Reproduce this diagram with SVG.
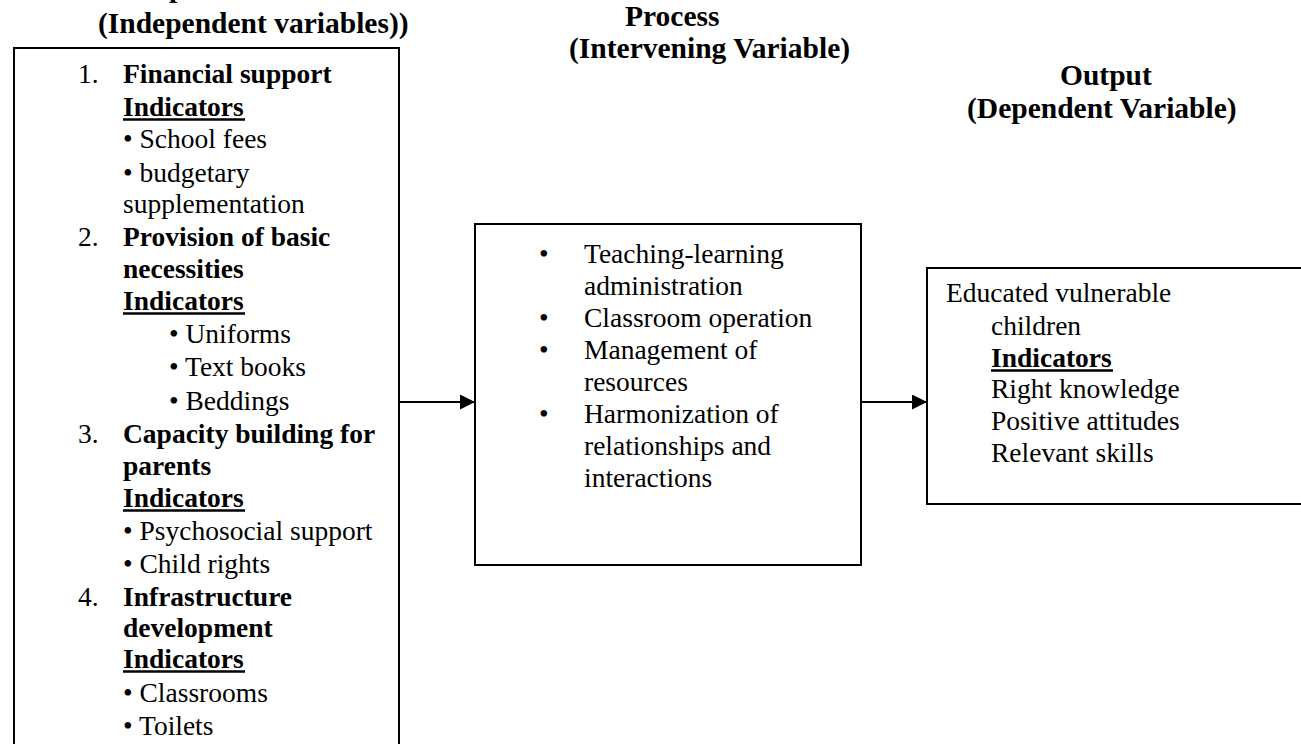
<svg xmlns="http://www.w3.org/2000/svg" width="1301" height="744" viewBox="0 0 1301 744">
  <style>
    text { font-family: "Liberation Serif", "Times New Roman", serif; fill: #000; }
    .body { font-size: 27.5px; }
    .b { font-weight: bold; }
    .title { font-size: 29.5px; font-weight: bold; }
    .box { fill: #fff; stroke: #000; stroke-width: 2; }
    .ul { stroke: #000; stroke-width: 2.6; }
    .conn { stroke: #000; stroke-width: 2; fill: none; }
  </style>
  <defs>
    <marker id="arrow" markerWidth="16" markerHeight="16" refX="15" refY="7.5" orient="auto" markerUnits="userSpaceOnUse">
      <path d="M0,0 L15,7.5 L0,15 Z" fill="#000"/>
    </marker>
  </defs>

  <rect width="1301" height="744" fill="#fff"/>

  <!-- column headings -->
  <g id="headings">
    <text class="title" x="141" y="-3">Input</text>
    <text class="title" x="98" y="33">(Independent variables))</text>
    <text class="title" x="625" y="26">Process</text>
    <text class="title" x="569" y="58">(Intervening Variable)</text>
    <text class="title" x="1060" y="85">Output</text>
    <text class="title" x="967" y="118">(Dependent Variable)</text>
  </g>

  <!-- input: independent variables -->
  <g id="input">
    <rect class="box" x="14" y="48" width="385" height="720"/>
    <g class="body">
      <text x="78" y="83">1.</text>
      <text class="b" x="123" y="83">Financial support</text>
      <text class="b" x="123" y="116">Indicators</text>
      <line class="ul" x1="123" y1="119.5" x2="245" y2="119.5"/>
      <text x="123" y="148">• School fees</text>
      <text x="123" y="182">• budgetary</text>
      <text x="123" y="213">supplementation</text>

      <text x="78" y="246">2.</text>
      <text class="b" x="123" y="246">Provision of basic</text>
      <text class="b" x="123" y="278">necessities</text>
      <text class="b" x="123" y="310">Indicators</text>
      <line class="ul" x1="123" y1="313.5" x2="245" y2="313.5"/>
      <text x="169" y="343">• Uniforms</text>
      <text x="169" y="376">• Text books</text>
      <text x="169" y="410">• Beddings</text>

      <text x="78" y="443">3.</text>
      <text class="b" x="123" y="443">Capacity building for</text>
      <text class="b" x="123" y="475">parents</text>
      <text class="b" x="123" y="507">Indicators</text>
      <line class="ul" x1="123" y1="510.5" x2="245" y2="510.5"/>
      <text x="123" y="540">• Psychosocial support</text>
      <text x="123" y="573">• Child rights</text>

      <text x="78" y="606">4.</text>
      <text class="b" x="123" y="606">Infrastructure</text>
      <text class="b" x="123" y="637">development</text>
      <text class="b" x="123" y="668">Indicators</text>
      <line class="ul" x1="123" y1="671.5" x2="245" y2="671.5"/>
      <text x="123" y="702">• Classrooms</text>
      <text x="123" y="735">• Toilets</text>
    </g>
  </g>

  <!-- process: intervening variable -->
  <g id="process">
    <rect class="box" x="475" y="224" width="386" height="341"/>
    <g class="body">
      <text x="539" y="263">•</text>
      <text x="584" y="263">Teaching-learning</text>
      <text x="584" y="295">administration</text>
      <text x="539" y="327">•</text>
      <text x="584" y="327">Classroom operation</text>
      <text x="539" y="359">•</text>
      <text x="584" y="359">Management of</text>
      <text x="584" y="391">resources</text>
      <text x="539" y="423">•</text>
      <text x="584" y="423">Harmonization of</text>
      <text x="584" y="455">relationships and</text>
      <text x="584" y="487">interactions</text>
    </g>
  </g>

  <!-- output: dependent variable -->
  <g id="output">
    <rect class="box" x="927" y="268" width="400" height="236"/>
    <g class="body">
      <text x="946" y="302">Educated vulnerable</text>
      <text x="991" y="335">children</text>
      <text class="b" x="991" y="367">Indicators</text>
      <line class="ul" x1="991" y1="370.5" x2="1113" y2="370.5"/>
      <text x="991" y="398">Right knowledge</text>
      <text x="991" y="430">Positive attitudes</text>
      <text x="991" y="462">Relevant skills</text>
    </g>
  </g>

  <!-- connectors -->
  <g id="connectors">
    <line class="conn" x1="400" y1="402" x2="475" y2="402" marker-end="url(#arrow)"/>
    <line class="conn" x1="862" y1="402" x2="927" y2="402" marker-end="url(#arrow)"/>
  </g>
</svg>
